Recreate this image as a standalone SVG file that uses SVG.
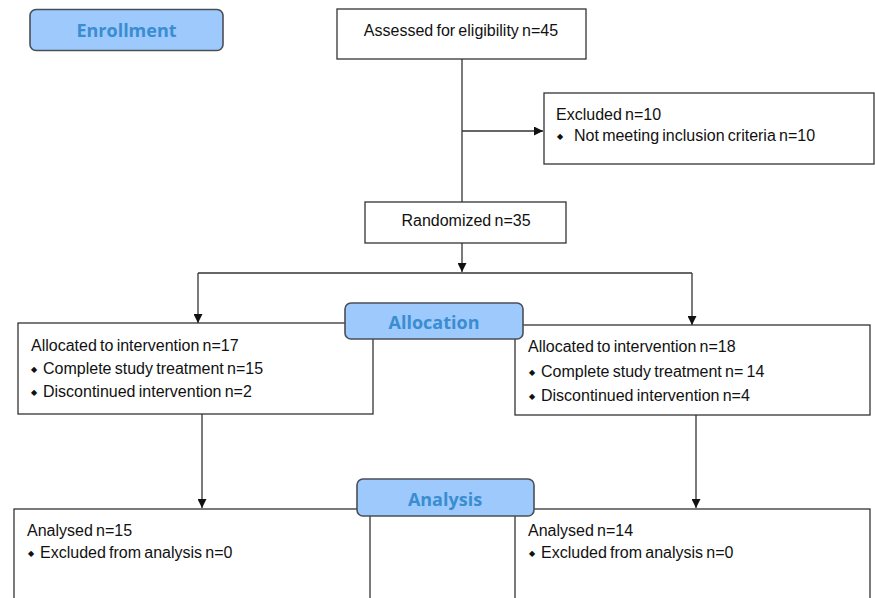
<svg xmlns="http://www.w3.org/2000/svg" width="875" height="598" viewBox="0 0 875 598">
<style>
.box{fill:#fff;stroke:#333;stroke-width:1.3}
.hdr{fill:#9DC9FD;stroke:#4a4f55;stroke-width:1.6}
.ht{font-family:"Open Sans","Liberation Sans",sans-serif;font-weight:700;font-size:18px;fill:#3A8DD0;text-anchor:middle}
.t{font-family:"Liberation Sans",Arial,sans-serif;font-size:16px;fill:#111;word-spacing:-1.2px}
.b{font-family:"DejaVu Sans",sans-serif;font-size:8px;fill:#111}
.ln{fill:none;stroke:#333;stroke-width:1.3}
</style>
<defs>
<marker id="ar" viewBox="0 0 10 10" refX="10" refY="5" markerWidth="9" markerHeight="9" markerUnits="userSpaceOnUse" orient="auto">
<path d="M0,0 L10,5 L0,10 z" fill="#111"/>
</marker>
</defs>
<rect width="875" height="598" fill="#fff"/>

<g id="connectors">
<path class="ln" d="M462,59 V202"/>
<path class="ln" d="M462,131 H543" marker-end="url(#ar)"/>
<path class="ln" d="M462,243 V272" marker-end="url(#ar)"/>
<path class="ln" d="M198,273 H692"/>
<path class="ln" d="M198,273 V323" marker-end="url(#ar)"/>
<path class="ln" d="M692,273 V325" marker-end="url(#ar)"/>
<path class="ln" d="M202,414 V508" marker-end="url(#ar)"/>
<path class="ln" d="M696,415 V508" marker-end="url(#ar)"/>
</g>

<g id="enrollment">
<rect class="hdr" x="30" y="9.5" width="193" height="41" rx="6"/>
<text class="ht" x="126.5" y="37">Enrollment</text>
</g>

<g id="assessed">
<rect class="box" x="337" y="9" width="249" height="50"/>
<text class="t" x="461" y="36" text-anchor="middle">Assessed for eligibility n=45</text>
</g>

<g id="excluded">
<rect class="box" x="544" y="93" width="330" height="71"/>
<text class="t" x="556" y="120">Excluded n=10</text>
<text class="b" x="557" y="139">◆</text>
<text class="t" x="574" y="141">Not meeting inclusion criteria n=10</text>
</g>

<g id="randomized">
<rect class="box" x="365" y="202" width="201" height="41"/>
<text class="t" x="466" y="226" text-anchor="middle">Randomized n=35</text>
</g>

<g id="left-allocation">
<rect class="box" x="18" y="323" width="355" height="91"/>
<text class="t" x="31" y="351">Allocated to intervention n=17</text>
<text class="b" x="31" y="372">◆</text>
<text class="t" x="43" y="374">Complete study treatment n=15</text>
<text class="b" x="31" y="395">◆</text>
<text class="t" x="43" y="397">Discontinued intervention n=2</text>
</g>

<g id="right-allocation">
<rect class="box" x="515" y="325" width="355" height="90"/>
<text class="t" x="528" y="352">Allocated to intervention n=18</text>
<text class="b" x="529" y="375">◆</text>
<text class="t" x="541" y="377">Complete study treatment n= 14</text>
<text class="b" x="529" y="399">◆</text>
<text class="t" x="541" y="401">Discontinued intervention n=4</text>
</g>

<g id="allocation">
<rect class="hdr" x="345" y="303" width="178" height="36" rx="6"/>
<text class="ht" x="434" y="329">Allocation</text>
</g>

<g id="left-analysis">
<rect class="box" x="14" y="509" width="356" height="100"/>
<text class="t" x="27" y="536">Analysed n=15</text>
<text class="b" x="28" y="556">◆</text>
<text class="t" x="40" y="558">Excluded from analysis n=0</text>
</g>

<g id="right-analysis">
<rect class="box" x="515" y="509" width="355" height="100"/>
<text class="t" x="528" y="536">Analysed n=14</text>
<text class="b" x="529" y="556">◆</text>
<text class="t" x="541" y="558">Excluded from analysis n=0</text>
</g>

<g id="analysis">
<rect class="hdr" x="357" y="479" width="177" height="37" rx="6"/>
<text class="ht" x="445" y="506">Analysis</text>
</g>
</svg>
